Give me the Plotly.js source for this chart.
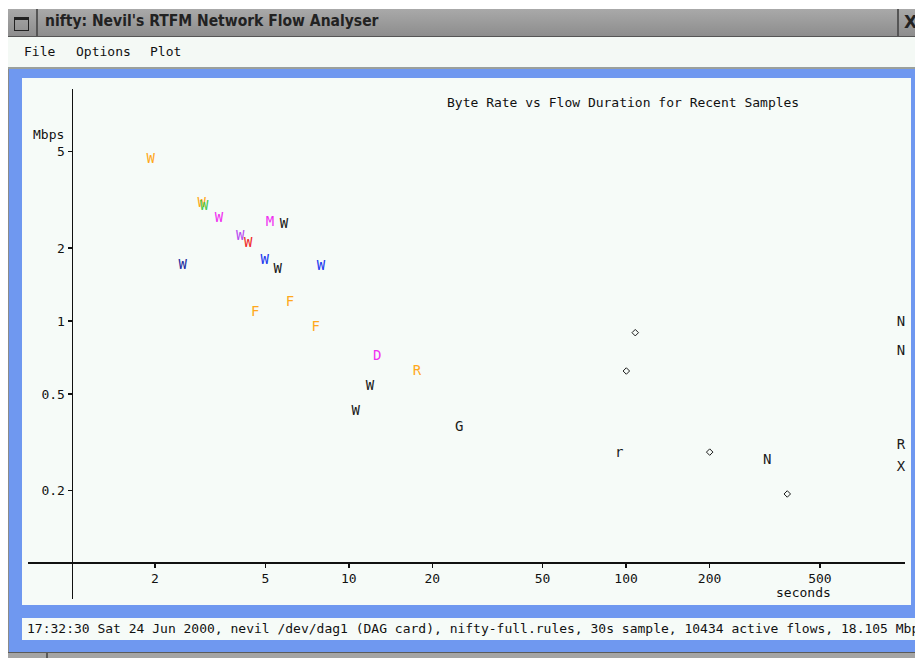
<!DOCTYPE html>
<html>
<head>
<meta charset="utf-8">
<script src="https://cdn.plot.ly/plotly-3.0.1.min.js"></script>
<style>
  html, body { margin:0; padding:0; background:#ffffff; width:915px; height:658px; overflow:hidden; }
  .mono { font-family: "DejaVu Sans Mono", "Liberation Mono", monospace; font-size:13px; color:#111; }
  #win { position:absolute; left:8px; top:9px; width:912px; height:652px; background:#6f98f0; border-left:1px solid #8a8a8a; }
  #titlebar { position:absolute; left:8px; top:9px; width:912px; height:27px;
    background:linear-gradient(#a9a9a9, #8d8d8d); border-bottom:1px solid #555; }
  #icon { position:absolute; left:0; top:0; width:28px; height:27px; border-right:2px solid #555; }
  #icon div { position:absolute; left:6px; top:8px; width:13px; height:10px; border:1px solid #222; border-top:3px solid #222; }
  #ttl { position:absolute; left:37px; top:3px; font-family:"DejaVu Sans Condensed","DejaVu Sans","Liberation Sans",sans-serif; font-weight:bold; font-size:15.5px; color:#222; white-space:nowrap; }
  #xbtn { position:absolute; left:889px; top:0; width:30px; height:27px; border-left:2px solid #555; }
  #xbtn span { position:absolute; left:5px; top:3px; font-family:"DejaVu Sans","Liberation Sans",sans-serif; font-weight:bold; font-size:17px; color:#222; }
  #menubar { position:absolute; left:8px; top:37px; width:912px; height:30px; background:#f4f9f5; border-bottom:2px solid #9aa09c; }
  #menubar span { position:absolute; top:7px; }
  #plotbox { position:absolute; left:22px; top:78px; width:889px; height:527px; background:#f6fbf8; }
  #status { position:absolute; left:22px; top:618px; width:900px; height:22px; background:#f6fbf8; white-space:nowrap; overflow:hidden; }
  #status span { position:absolute; left:5px; top:3px; }
  #bottom { position:absolute; left:8px; top:652px; width:912px; height:6px; background:#a4a4a4; border-top:1px solid #5a5a5a; }
  #bottom div { position:absolute; left:38px; top:0; width:2px; height:6px; background:#5a5a5a; }
</style>
</head>
<body>
<div id="win"></div>
<div id="titlebar">
  <div id="icon"><div></div></div>
  <div id="ttl">nifty: Nevil's RTFM Network Flow Analyser</div>
  <div id="xbtn"><span>X</span></div>
</div>
<div id="menubar" class="mono">
  <span style="left:16px">File</span>
  <span style="left:68px">Options</span>
  <span style="left:142px">Plot</span>
</div>
<div id="plotbox"></div>
<div id="status" class="mono"><span>17:32:30 Sat 24 Jun 2000, nevil /dev/dag1 (DAG card), nifty-full.rules, 30s sample, 10434 active flows, 18.105 Mbps</span></div>
<div id="bottom"><div></div></div>

<script>
// ---- data ----
const duration  = [1.93, 2.95, 3.01, 3.40, 4.06, 4.34, 5.20, 5.84, 2.52, 4.97, 5.54, 7.94,
                   4.60, 6.14, 7.60, 12.67, 17.6, 11.93, 10.59, 25.0, 94.5, 323, 980, 980, 980, 980];
const rate      = [4.64, 3.04, 2.96, 2.65, 2.23, 2.08, 2.54, 2.51, 1.69, 1.77, 1.63, 1.67,
                   1.08, 1.19, 0.942, 0.717, 0.618, 0.536, 0.425, 0.363, 0.285, 0.267, 0.984, 0.752, 0.306, 0.248];
const flowLabel = ["W","W","W","W","W","W","M","W","W","W","W","W",
                   "F","F","F","D","R","W","W","G","r","N","N","N","R","X"];
const flowClass = ["c1","c1","c2","c3","c4","c5","c3","c0","c6","c7","c0","c7",
                   "c1","c1","c1","c3","c1","c0","c0","c0","c0","c0","c0","c0","c0","c0"];
const otherDuration = [107.9, 100.2, 200.2, 381.3];
const otherRate     = [0.895, 0.622, 0.288, 0.1935];
const xTicks = [2, 5, 10, 20, 50, 100, 200, 500];
const xTickText = ["2","5","10","20","50","100","200","500"];
const yTicks = [0.2, 0.5, 1, 2, 5];
const yTickText = ["0.2","0.5","1","2","5"];

// ---- styling ----
const palette = { c0:"#1a1a1a", c1:"#ffa81c", c2:"#4cc84c", c3:"#f030f0", c4:"#b84cf0",
                  c5:"#f02828", c6:"#1c2ca0", c7:"#2038f0" };
const FONT = '"DejaVu Sans Mono", "Liberation Mono", monospace';

// plot area in page pixels: x 28..905, y 89..599 (div at 22,78)
const L = 28, R = 905, T = 89, B = 599;
const px = v => (v - L) / (R - L);
const py = v => (B - v) / (B - T);

const traces = [
  { type:"scatter", mode:"text", x:duration, y:rate, text:flowLabel,
    textposition:"middle center", cliponaxis:false, hoverinfo:"skip",
    textfont:{ family:FONT, size:14, color:flowClass.map(c => palette[c]) } },
  { type:"scatter", mode:"markers", x:otherDuration, y:otherRate, hoverinfo:"skip",
    marker:{ symbol:"diamond-open", size:5, color:"#1a1a1a", line:{ width:1, color:"#1a1a1a" } } }
];

const layout = {
  width:889, height:527,
  margin:{ l:L-22, r:(22+889)-R, t:T-78, b:(78+527)-B, pad:0 },
  paper_bgcolor:"#f6fbf8", plot_bgcolor:"#f6fbf8",
  showlegend:false, hovermode:false,
  font:{ family:FONT, size:13, color:"#111" },
  xaxis:{ type:"log", range:[-0.1569, 3.0058], anchor:"free", position:py(562),
    showline:true, linecolor:"#111", linewidth:1.5, showgrid:false, zeroline:false,
    ticks:"outside", ticklen:4, tickwidth:1.5, tickcolor:"#111",
    tickvals:xTicks, ticktext:xTickText, tickfont:{ family:FONT, size:13, color:"#111" } },
  yaxis:{ type:"log", range:[-1.1464, 0.9567], anchor:"free", position:px(71.5),
    showline:true, linecolor:"#111", linewidth:1.5, showgrid:false, zeroline:false,
    ticks:"outside", ticklen:4, tickwidth:1.5, tickcolor:"#111",
    tickvals:yTicks, ticktext:yTickText, tickfont:{ family:FONT, size:13, color:"#111" } },
  annotations:[
    { text:"Byte Rate vs Flow Duration for Recent Samples", xref:"paper", yref:"paper",
      x:px(622.5), y:py(102), xanchor:"center", yanchor:"middle", showarrow:false,
      font:{ family:FONT, size:13, color:"#111" } },
    { text:"Mbps", xref:"paper", yref:"paper", x:px(66), y:py(134),
      xanchor:"right", yanchor:"middle", showarrow:false, font:{ family:FONT, size:13, color:"#111" } },
    { text:"seconds", xref:"paper", yref:"paper", x:px(803), y:py(592),
      xanchor:"center", yanchor:"middle", showarrow:false, font:{ family:FONT, size:13, color:"#111" } }
  ]
};

Plotly.newPlot("plotbox", traces, layout, { displayModeBar:false, staticPlot:true });
</script>
</body>
</html>
